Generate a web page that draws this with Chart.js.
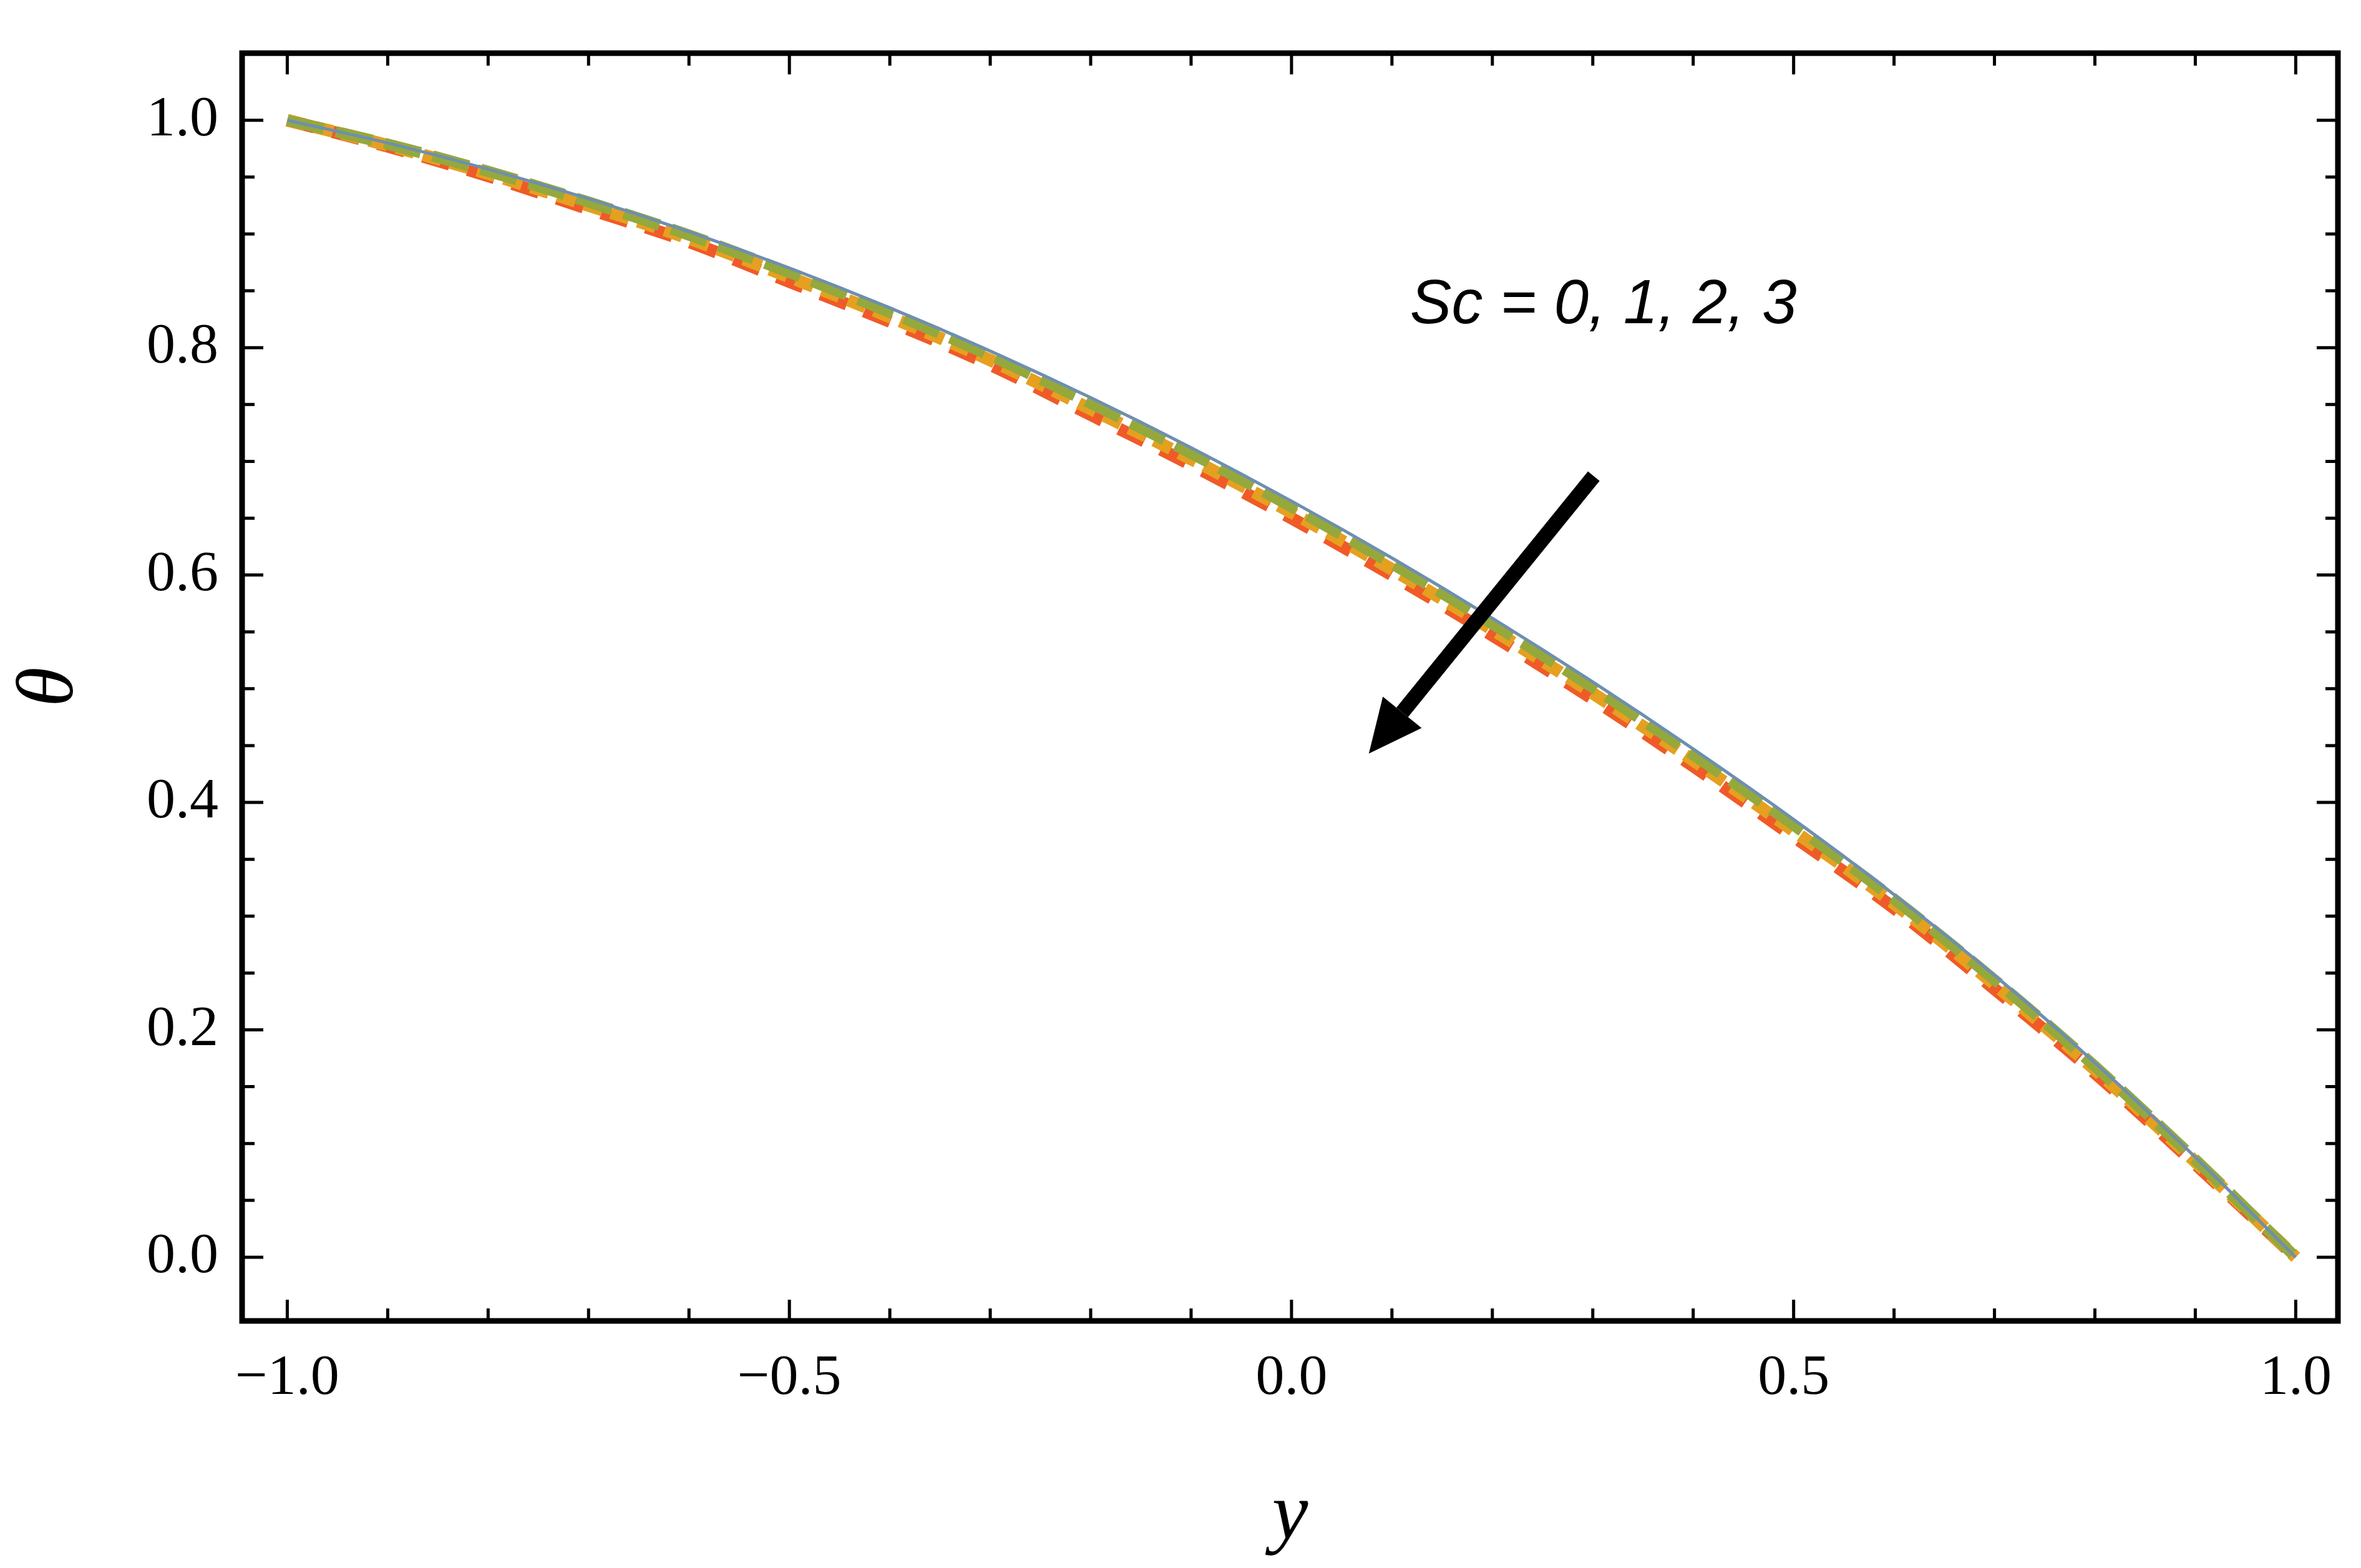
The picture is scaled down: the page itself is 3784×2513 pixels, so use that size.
<!DOCTYPE html>
<html><head><meta charset="utf-8">
<script src="https://cdn.jsdelivr.net/npm/chart.js@4.4.1/dist/chart.umd.min.js"></script>
<style>html,body{margin:0;padding:0;background:#fff}#c{display:block}</style>
</head><body>
<canvas id="c" width="3784" height="2513"></canvas>
<script>
const yValues = [-1.0,-0.9,-0.8,-0.7,-0.6,-0.5,-0.4,-0.3,-0.2,-0.1,0.0,0.1,0.2,0.3,0.4,0.5,0.6,0.7,0.8,0.9,1.0];
const sc0 = [1.000,0.980,0.957,0.931,0.902,0.870,0.835,0.797,0.756,0.712,0.665,0.615,0.562,0.506,0.447,0.385,0.319,0.248,0.171,0.088,0.000];
const sc1 = [1.000,0.979,0.955,0.928,0.899,0.866,0.831,0.793,0.751,0.707,0.660,0.610,0.557,0.501,0.442,0.380,0.315,0.244,0.168,0.086,0.000];
const sc2 = [1.000,0.978,0.953,0.925,0.896,0.862,0.827,0.789,0.746,0.702,0.655,0.605,0.552,0.496,0.437,0.375,0.311,0.240,0.165,0.084,0.000];
const sc3 = [1.000,0.977,0.951,0.922,0.893,0.858,0.823,0.785,0.741,0.697,0.650,0.600,0.547,0.491,0.432,0.370,0.307,0.236,0.162,0.082,0.000];
const xTicks = [-1.0,-0.5,0.0,0.5,1.0];
const yTicks = [0.0,0.2,0.4,0.6,0.8,1.0];
const seriesLabels = ['Sc = 0','Sc = 1','Sc = 2','Sc = 3'];
const annotationText = 'Sc = 0, 1, 2, 3';

const pts = a => yValues.map((x,i)=>({x:x,y:a[i]}));

const decor = {
  id:'decor',
  afterDatasetsDraw(chart){
    const {ctx, chartArea:ca, scales:{x,y}} = chart;
    ctx.save();
    ctx.strokeStyle='#000'; ctx.lineWidth=9;
    ctx.strokeRect(ca.left, ca.top, ca.right-ca.left, ca.bottom-ca.top);
    ctx.lineWidth=5;
    for(let v=-1.0; v<=1.0001; v+=0.1){
      const px=x.getPixelForValue(v); const major=Math.abs(v*2-Math.round(v*2))<1e-6;
      const L=major?34:20;
      ctx.beginPath(); ctx.moveTo(px,ca.bottom); ctx.lineTo(px,ca.bottom-L);
      ctx.moveTo(px,ca.top); ctx.lineTo(px,ca.top+L); ctx.stroke();
    }
    for(let v=0; v<=1.0001; v+=0.05){
      const py=y.getPixelForValue(v); const major=Math.abs(v*5-Math.round(v*5))<1e-6;
      const L=major?34:20;
      ctx.beginPath(); ctx.moveTo(ca.left,py); ctx.lineTo(ca.left+L,py);
      ctx.moveTo(ca.right,py); ctx.lineTo(ca.right-L,py); ctx.stroke();
    }
    ctx.fillStyle='#000';
    ctx.font='italic 100px "Liberation Sans"';
    ctx.textAlign='left'; ctx.textBaseline='middle';
    ctx.fillText(annotationText, x.getPixelForValue(0.118), y.getPixelForValue(0.837));
    const x1=x.getPixelForValue(0.301), y1=y.getPixelForValue(0.687);
    const x2=x.getPixelForValue(0.077), y2=y.getPixelForValue(0.443);
    const ang=Math.atan2(y2-y1,x2-x1);
    const hl=85, hw=40;
    const bx=x2-hl*Math.cos(ang), by=y2-hl*Math.sin(ang);
    ctx.lineWidth=24; ctx.lineCap='butt';
    ctx.beginPath(); ctx.moveTo(x1,y1); ctx.lineTo(bx,by); ctx.stroke();
    ctx.beginPath(); ctx.moveTo(x2,y2);
    ctx.lineTo(bx+hw*Math.sin(ang), by-hw*Math.cos(ang));
    ctx.lineTo(bx-hw*Math.sin(ang), by+hw*Math.cos(ang));
    ctx.closePath(); ctx.fill();
    ctx.restore();
  }
};

new Chart(document.getElementById('c'),{
  type:'line',
  data:{datasets:[
    {label:seriesLabels[3],data:pts(sc3),borderColor:'#f05a28',borderWidth:20,borderDash:[45,30],pointRadius:0,cubicInterpolationMode:'monotone',order:4},
    {label:seriesLabels[2],data:pts(sc2),borderColor:'#e5a020',borderWidth:20,borderDash:[30,15],pointRadius:0,cubicInterpolationMode:'monotone',order:3},
    {label:seriesLabels[1],data:pts(sc1),borderColor:'#95a83c',borderWidth:18,borderDash:[60,20],pointRadius:0,cubicInterpolationMode:'monotone',order:2},
    {label:seriesLabels[0],data:pts(sc0),borderColor:'#6e8fb0',borderWidth:5,pointRadius:0,cubicInterpolationMode:'monotone',order:1}
  ]},
  options:{
    responsive:false, animation:false, devicePixelRatio:1,
    layout:{padding:{left:0,right:37,top:44,bottom:0}},
    plugins:{legend:{display:false},tooltip:{enabled:false}},
    scales:{
      x:{type:'linear',min:-1.045,max:1.042,
        afterBuildTicks:s=>{s.ticks=xTicks.map(v=>({value:v}));},
        afterFit:s=>{s.height=396;},
        grid:{display:false},border:{display:false},
        ticks:{color:'#000',padding:30,font:{family:'Liberation Serif',size:92},
          callback:v=>v.toFixed(1).replace('-','\u2212')},
        title:{display:true,text:'y',color:'#000',padding:{top:20},font:{family:'Liberation Serif',size:130,style:'italic'}}},
      y:{type:'linear',min:-0.056,max:1.059,
        afterBuildTicks:s=>{s.ticks=yTicks.map(v=>({value:v}));},
        afterFit:s=>{s.width=388;},
        grid:{display:false},border:{display:false},
        ticks:{color:'#000',padding:30,font:{family:'Liberation Serif',size:92},callback:v=>v.toFixed(1)},
        title:{display:true,text:'θ',color:'#000',padding:{bottom:10},font:{family:'Liberation Serif',size:130,style:'italic'}}}
    }
  },
  plugins:[decor]
});
</script>
</body></html>
